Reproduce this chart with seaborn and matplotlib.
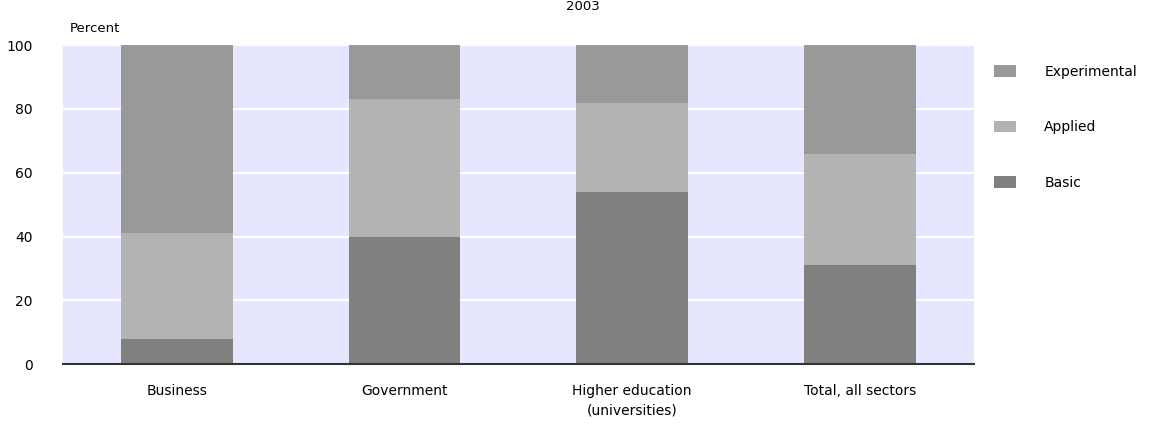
import pandas as pd
import matplotlib
matplotlib.use("Agg")
import matplotlib.pyplot as plt
import seaborn as sns
from matplotlib.patches import Patch

# Shares of R&D by character of work, 2003
sectors = ["Business", "Government", "Higher education\n(universities)", "Total, all sectors"]
basic = [8, 40, 54, 31]
applied = [33, 43, 28, 35]
experimental = [59, 17, 18, 34]

colors = {"Experimental": "#999999", "Applied": "#b3b3b3", "Basic": "#808080"}

df = pd.DataFrame({"sector": sectors, "Basic": basic, "Applied": applied,
                   "Experimental": experimental})
df["top_applied"] = df["Basic"] + df["Applied"]
df["top_exp"] = df["top_applied"] + df["Experimental"]

sns.set_style("white")
plt.rcParams["font.family"] = ["DejaVu Sans"]
plt.rcParams["text.color"] = "black"
plt.rcParams["xtick.color"] = "black"
plt.rcParams["ytick.color"] = "black"

fig = plt.figure(figsize=(11.66, 4.34), dpi=100)
ax = fig.add_axes([0.054, 0.161, 0.781, 0.735])
ax.set_facecolor("#e6e6ff")

# stacked bars drawn as cumulative layers
for col, key, z in [("top_exp", "Experimental", 2), ("top_applied", "Applied", 3), ("Basic", "Basic", 4)]:
    sns.barplot(data=df, x="sector", y=col, color=colors[key], width=0.49,
                saturation=1, linewidth=0, ax=ax, zorder=z)

ax.set_ylim(0, 100)
ax.set_xlim(-0.5, 3.5)
ax.set_yticks([0, 20, 40, 60, 80, 100])
ax.yaxis.grid(True, color="white", linewidth=1.5, zorder=1)
ax.set_axisbelow(True)
for s in ["top", "right", "left"]:
    ax.spines[s].set_visible(False)
ax.spines["bottom"].set_color("#333333")
ax.spines["bottom"].set_linewidth(1.5)
ax.spines["bottom"].set_zorder(5)
ax.tick_params(axis="y", length=0, pad=22, labelsize=10)
ax.tick_params(axis="x", length=0, pad=14, labelsize=10)
for lbl in ax.get_xticklabels():
    lbl.set_linespacing(1.5)
ax.set_xlabel("")
ax.set_ylabel("")

fig.text(0.06, 0.935, "Percent", fontsize=9.5, ha="left", va="center")
fig.text(0.5, 0.999, "2003", fontsize=9.5, ha="center", va="top")

handles = [Patch(facecolor=colors[k], edgecolor="none") for k in ["Experimental", "Applied", "Basic"]]
fig.legend(handles, ["Experimental", "Applied", "Basic"], loc="upper left",
           bbox_to_anchor=(0.842, 0.88), frameon=False, fontsize=10,
           handlelength=1.6, handleheight=0.9, handletextpad=2.0, labelspacing=3.0)

fig.savefig("out.png", dpi=100)
